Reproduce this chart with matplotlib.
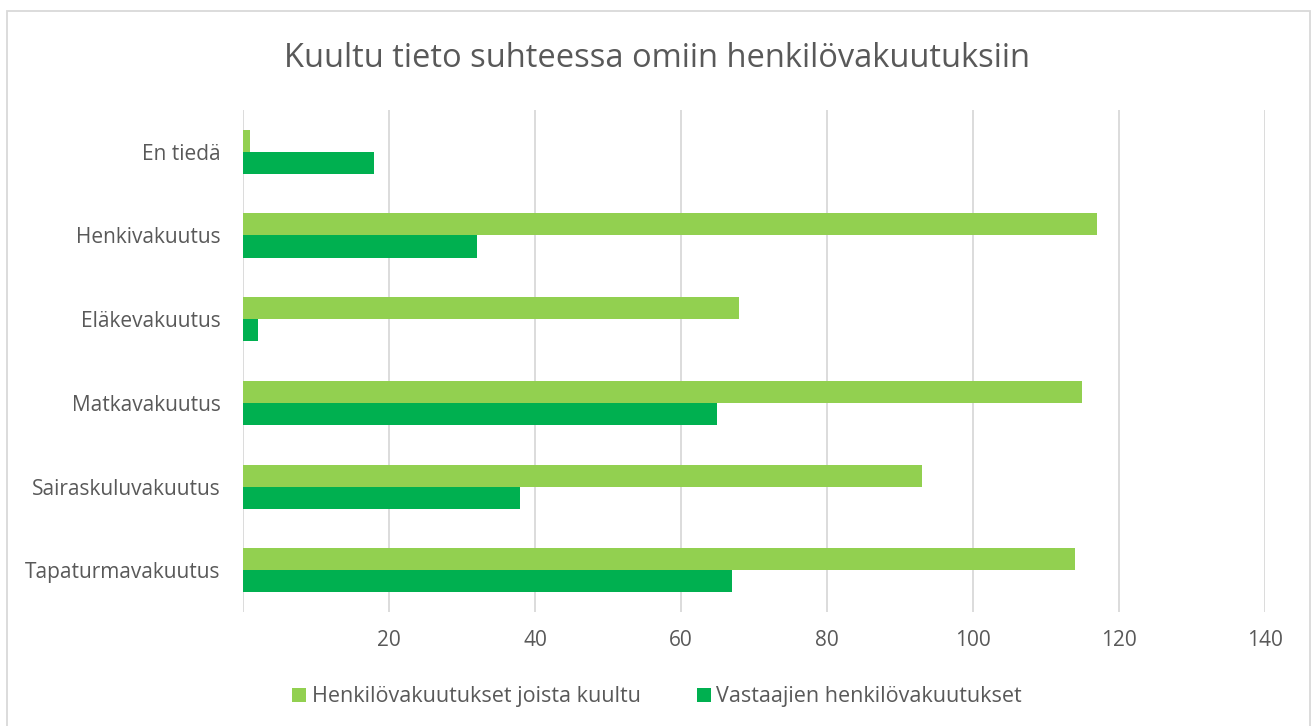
import matplotlib.pyplot as plt
import numpy as np
from matplotlib.patches import Rectangle

categories = ["Tapaturmavakuutus", "Sairaskuluvakuutus", "Matkavakuutus",
              "Eläkevakuutus", "Henkivakuutus", "En tiedä"]
kuultu = [114, 93, 115, 68, 117, 1]
vastaajat = [67, 38, 65, 2, 32, 18]
series_names = ["Henkilövakuutukset joista kuultu", "Vastaajien henkilövakuutukset"]
xticks = [20, 40, 60, 80, 100, 120, 140]

plt.rcParams['font.family'] = ['Open Sans', 'DejaVu Sans']
text_col = '#595959'

fig = plt.figure(figsize=(13.14, 7.26), dpi=100)
ax = fig.add_axes([0.185, 0.157, 0.7776, 0.6915])

y = np.arange(len(categories))
h = 0.263
ax.barh(y + h / 2, kuultu, height=h, color='#92D050', label=series_names[0], zorder=3)
ax.barh(y - h / 2, vastaajat, height=h, color='#00B050', label=series_names[1], zorder=3)

ax.set_xlim(0, 140)
ax.set_ylim(-0.5, len(categories) - 0.5)
ax.set_xticks([0] + xticks)
ax.set_xticklabels([''] + [str(t) for t in xticks])
ax.set_yticks(y)
ax.set_yticklabels(categories)
ax.grid(axis='x', color='#D9D9D9', linewidth=1.3, zorder=0)
for s in ax.spines.values():
    s.set_visible(False)
ax.tick_params(axis='both', length=0, labelsize=15, colors=text_col)
ax.tick_params(axis='x', pad=13)
ax.tick_params(axis='y', pad=16)

fig.text(0.5, 0.92, "Kuultu tieto suhteessa omiin henkilövakuutuksiin",
         ha='center', va='center', fontsize=23.5, color=text_col)

leg = fig.legend(loc='center', bbox_to_anchor=(0.5, 0.04), ncol=2, frameon=False,
                 fontsize=15.5, handlelength=0.65, handleheight=0.65, columnspacing=2.6,
                 handletextpad=0.25)
for t in leg.get_texts():
    t.set_color(text_col)

fig.patches.append(Rectangle((0.0053, -0.01), 0.9916, 0.995, transform=fig.transFigure,
                             fill=False, edgecolor='#D9D9D9', linewidth=1.3))

fig.savefig('out.png', dpi=100)
